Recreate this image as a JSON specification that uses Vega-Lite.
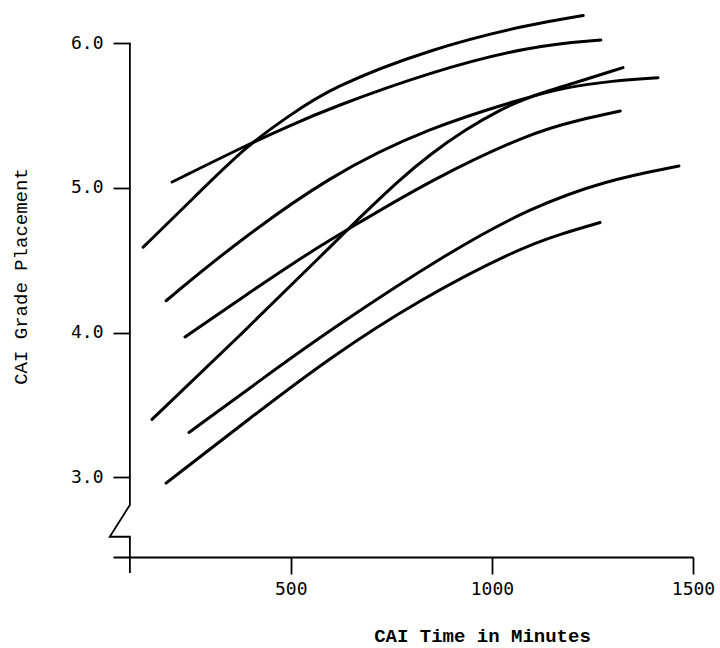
{
  "$schema": "https://vega.github.io/schema/vega-lite/v6.json",
  "width": 580,
  "height": 514,
  "autosize": {"type": "none"},
  "padding": {"left": 113, "top": 43, "right": 27, "bottom": 91},
  "background": "white",
  "config": {"view": {"stroke": null}},
  "datasets": {
    "curves": [
      {"curve": "A", "time": 133, "grade": 4.59},
      {"curve": "A", "time": 262, "grade": 4.94},
      {"curve": "A", "time": 394, "grade": 5.30},
      {"curve": "A", "time": 498, "grade": 5.50},
      {"curve": "A", "time": 598, "grade": 5.69},
      {"curve": "A", "time": 846, "grade": 5.96},
      {"curve": "A", "time": 1095, "grade": 6.13},
      {"curve": "A", "time": 1227, "grade": 6.19},
      {"curve": "B", "time": 205, "grade": 5.04},
      {"curve": "B", "time": 394, "grade": 5.30},
      {"curve": "B", "time": 498, "grade": 5.43},
      {"curve": "B", "time": 598, "grade": 5.55},
      {"curve": "B", "time": 846, "grade": 5.80},
      {"curve": "B", "time": 1095, "grade": 5.98},
      {"curve": "B", "time": 1271, "grade": 6.02},
      {"curve": "D", "time": 190, "grade": 4.22},
      {"curve": "D", "time": 341, "grade": 4.57},
      {"curve": "D", "time": 598, "grade": 5.09},
      {"curve": "D", "time": 846, "grade": 5.42},
      {"curve": "D", "time": 1095, "grade": 5.63},
      {"curve": "D", "time": 1177, "grade": 5.69},
      {"curve": "D", "time": 1301, "grade": 5.74},
      {"curve": "D", "time": 1413, "grade": 5.76},
      {"curve": "E", "time": 155, "grade": 3.40},
      {"curve": "E", "time": 374, "grade": 3.98},
      {"curve": "E", "time": 590, "grade": 4.57},
      {"curve": "E", "time": 677, "grade": 4.81},
      {"curve": "E", "time": 772, "grade": 5.06},
      {"curve": "E", "time": 846, "grade": 5.23},
      {"curve": "E", "time": 933, "grade": 5.40},
      {"curve": "E", "time": 1020, "grade": 5.54},
      {"curve": "E", "time": 1095, "grade": 5.63},
      {"curve": "E", "time": 1177, "grade": 5.70},
      {"curve": "E", "time": 1326, "grade": 5.83},
      {"curve": "F", "time": 237, "grade": 3.97},
      {"curve": "F", "time": 399, "grade": 4.28},
      {"curve": "F", "time": 555, "grade": 4.57},
      {"curve": "F", "time": 677, "grade": 4.77},
      {"curve": "F", "time": 846, "grade": 5.05},
      {"curve": "F", "time": 1095, "grade": 5.38},
      {"curve": "F", "time": 1219, "grade": 5.47},
      {"curve": "F", "time": 1319, "grade": 5.53},
      {"curve": "G", "time": 247, "grade": 3.31},
      {"curve": "G", "time": 424, "grade": 3.67},
      {"curve": "G", "time": 598, "grade": 4.02},
      {"curve": "G", "time": 901, "grade": 4.57},
      {"curve": "G", "time": 1095, "grade": 4.86},
      {"curve": "G", "time": 1281, "grade": 5.05},
      {"curve": "G", "time": 1465, "grade": 5.15},
      {"curve": "H", "time": 190, "grade": 2.96},
      {"curve": "H", "time": 399, "grade": 3.41},
      {"curve": "H", "time": 598, "grade": 3.83},
      {"curve": "H", "time": 821, "grade": 4.23},
      {"curve": "H", "time": 1058, "grade": 4.57},
      {"curve": "H", "time": 1169, "grade": 4.68},
      {"curve": "H", "time": 1269, "grade": 4.76}
    ],
    "yline": [
      {"k": 0, "time": 100, "grade": 6.0},
      {"k": 1, "time": 100, "grade": 2.81},
      {"k": 2, "time": 50, "grade": 2.59},
      {"k": 3, "time": 100, "grade": 2.59},
      {"k": 4, "time": 100, "grade": 2.34}
    ]
  },
  "layer": [
    {
      "data": {"name": "curves"},
      "mark": {"type": "line", "interpolate": "basis", "color": "black", "strokeWidth": 3, "strokeCap": "round"},
      "encoding": {
        "x": {
          "field": "time", "type": "quantitative",
          "scale": {"domain": [58, 1500], "nice": false, "zero": false},
          "axis": {
            "values": [500, 1000, 1500],
            "format": "d",
            "grid": false,
            "title": "CAI Time in Minutes",
            "domainColor": "black", "domainWidth": 1.8,
            "tickColor": "black", "tickWidth": 1.8, "tickSize": 17,
            "labelFont": "DejaVu Sans Mono", "labelFontSize": 18, "labelColor": "black",
            "labelPadding": 6, "labelFlush": false,
            "titleFont": "Liberation Mono", "titleFontSize": 19, "titleFontWeight": "bold", "titleColor": "black",
            "titleX": 369, "titleY": 84, "titleAlign": "center", "titleBaseline": "alphabetic"
          }
        },
        "y": {
          "field": "grade", "type": "quantitative",
          "scale": {"domain": [2.45, 6.0], "nice": false, "zero": false},
          "axis": {
            "values": [3, 4, 5, 6],
            "format": ".1f",
            "grid": false,
            "domain": false,
            "offset": -17,
            "title": "CAI Grade Placement",
            "tickColor": "black", "tickWidth": 1.8, "tickSize": 17,
            "labelFont": "DejaVu Sans Mono", "labelFontSize": 18, "labelColor": "black",
            "labelPadding": 10, "labelFlush": false,
            "titleFont": "Liberation Mono", "titleFontSize": 19, "titleFontWeight": "normal", "titleColor": "black",
            "titleAngle": -90, "titleX": -104, "titleY": 233, "titleAlign": "center", "titleBaseline": "alphabetic"
          }
        },
        "detail": {"field": "curve"}
      }
    },
    {
      "data": {"name": "yline"},
      "mark": {"type": "line", "interpolate": "linear", "color": "black", "strokeWidth": 1.8, "clip": false},
      "encoding": {
        "x": {"field": "time", "type": "quantitative"},
        "y": {"field": "grade", "type": "quantitative"},
        "order": {"field": "k", "type": "quantitative"}
      }
    }
  ]
}
